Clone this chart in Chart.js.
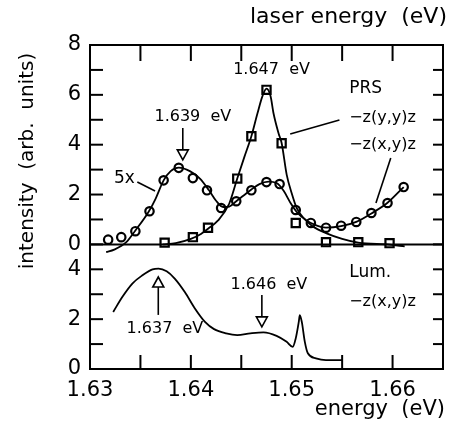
<!DOCTYPE html>
<html>
<head>
<meta charset="utf-8">
<script src="https://cdn.jsdelivr.net/npm/chart.js@4/dist/chart.umd.min.js"></script>
<style>
  html, body { margin: 0; padding: 0; background: #fff; }
  #wrap { width: 452px; height: 427px; }
</style>
</head>
<body>
<div id="wrap"><canvas id="grafica"></canvas></div>
<script>
// lower panel spans 0..5 on the shared axis, upper panel zero sits at 5
var LOWER_MAX = 5;
var UPPER_MAX = 8;

// PRS -z(x,y)z, 5x (circles)
var xyEnergia = [1.6318, 1.6331, 1.6345, 1.6359, 1.6373, 1.6388, 1.6402, 1.6416, 1.6430, 1.6445, 1.6460,
                 1.6475, 1.6488, 1.6504, 1.6519, 1.6534, 1.6549, 1.6564, 1.6579, 1.6595, 1.6611];
var xyValor   = [0.19, 0.29, 0.53, 1.33, 2.57, 3.07, 2.66, 2.17, 1.46, 1.73, 2.17,
                 2.50, 2.42, 1.38, 0.86, 0.67, 0.75, 0.90, 1.26, 1.66, 2.30];

// PRS -z(y,y)z (squares)
var yyEnergia = [1.6374, 1.6402, 1.6417, 1.6446, 1.6460, 1.6475, 1.6490, 1.6504, 1.6534, 1.6566, 1.6597];
var yyValor   = [0.07, 0.29, 0.67, 2.64, 4.34, 6.20, 4.06, 0.86, 0.09, 0.09, 0.05];

// fitted curve through the circles
var xyCurvaE = [1.6316, 1.6324, 1.6336, 1.6345, 1.6358, 1.6365, 1.6373, 1.6380, 1.6388, 1.6399, 1.6409,
                1.6418, 1.6425, 1.6432, 1.6438, 1.6445, 1.6452, 1.6460, 1.6468, 1.6477, 1.6485, 1.6492,
                1.6499, 1.6506, 1.6514, 1.6522, 1.6534, 1.6549, 1.6564, 1.6579, 1.6595, 1.6611];
var xyCurvaI = [-0.31, -0.21, 0.09, 0.56, 1.30, 1.83, 2.57, 2.94, 3.08, 2.94, 2.64,
                2.17, 1.75, 1.50, 1.52, 1.73, 1.95, 2.20, 2.42, 2.52, 2.46, 2.15,
                1.65, 1.25, 0.98, 0.80, 0.67, 0.73, 0.90, 1.24, 1.67, 2.30];

// fitted curve through the squares
var yyCurvaE = [1.6372, 1.6385, 1.6400, 1.6410, 1.6417, 1.6427, 1.6438, 1.6446, 1.6453, 1.6460, 1.6466,
                1.6471, 1.6475, 1.6479, 1.6482, 1.6487, 1.6490, 1.6495, 1.6500, 1.6505, 1.6512, 1.6520,
                1.6534, 1.6550, 1.6566, 1.6597, 1.6612];
var yyCurvaI = [0.00, 0.05, 0.22, 0.42, 0.63, 0.96, 1.63, 2.64, 3.50, 4.34, 5.25,
                5.95, 6.25, 5.95, 5.25, 4.45, 4.07, 2.80, 2.05, 1.45, 1.05, 0.75,
                0.45, 0.22, 0.07, -0.01, -0.08];

// luminescence -z(x,y)z (lower panel)
var lumEnergia = [1.6323, 1.6332, 1.6342, 1.6352, 1.6362, 1.6368, 1.6376, 1.6384, 1.6394, 1.6404, 1.6414,
                  1.6423, 1.6435, 1.6446, 1.6459, 1.6472, 1.6485, 1.6495, 1.6501, 1.6504, 1.6507, 1.6508,
                  1.6510, 1.6513, 1.6516, 1.6524, 1.6534, 1.6550];
var lumValor   = [2.29, 2.89, 3.43, 3.76, 4.00, 4.03, 3.92, 3.63, 3.09, 2.43, 1.89,
                  1.60, 1.43, 1.36, 1.43, 1.47, 1.33, 1.09, 0.89, 1.23, 1.89, 2.16,
                  1.89, 1.09, 0.63, 0.43, 0.36, 0.36];

function puntos(es, vs, offset) {
    return es.map(function (e, i) { return { x: e, y: vs[i] + offset }; });
}

var FONT = '"DejaVu Sans", sans-serif';

var anotaciones = {
    id: 'anotaciones',
    afterDraw: function (chart) {
        var ctx = chart.ctx;
        var a = chart.chartArea;
        var sx = chart.scales.x;
        var sy = chart.scales.y;
        var px = function (e) { return sx.getPixelForValue(e); };
        var py = function (v) { return sy.getPixelForValue(v); };

        function linea(x1, y1, x2, y2) {
            ctx.beginPath();
            ctx.moveTo(x1, y1);
            ctx.lineTo(x2, y2);
            ctx.stroke();
        }
        function texto(s, x, y, align, size) {
            ctx.font = (size || 16) + 'px ' + FONT;
            ctx.textAlign = align || 'center';
            ctx.textBaseline = 'middle';
            ctx.fillText(s, x, y);
        }
        // open arrow head pointing from y0 towards y1 (data units)
        function flecha(e, v0, v1) {
            var x = px(e), y0 = py(v0), y1 = py(v1);
            var dir = y1 > y0 ? 1 : -1;
            var base = y1 - dir * 10;
            linea(x, y0, x, base);
            ctx.beginPath();
            ctx.moveTo(x - 5.5, base);
            ctx.lineTo(x + 5.5, base);
            ctx.lineTo(x, y1);
            ctx.closePath();
            ctx.fillStyle = '#fff';
            ctx.fill();
            ctx.stroke();
            ctx.fillStyle = '#000';
        }

        ctx.save();
        ctx.strokeStyle = '#000';
        ctx.fillStyle = '#000';
        ctx.lineWidth = 2;

        // frame and panel divider
        ctx.strokeRect(a.left, a.top, a.right - a.left, a.bottom - a.top);
        linea(a.left, py(LOWER_MAX), a.right, py(LOWER_MAX));

        // inward tick marks
        sy.ticks.forEach(function (t) {
            if (t.value <= sy.min || t.value >= sy.max) return;
            var y = py(t.value);
            linea(a.left, y, a.left + 13, y);
            linea(a.right - 10, y, a.right, y);
        });
        sx.ticks.forEach(function (t) {
            if (t.value <= sx.min + 1e-9 || t.value >= sx.max - 1e-9) return;
            var x = px(t.value);
            linea(x, a.top, x, a.top + 16);
            linea(x, a.bottom - 14, x, a.bottom);
        });

        // axis titles
        texto('laser energy  (eV)', 447, 17, 'right', 22);
        texto('energy  (eV)', 445, 410, 'right', 21);
        ctx.save();
        ctx.translate(28, 161);
        ctx.rotate(-Math.PI / 2);
        texto('intensity  (arb.  units)', 0, 0, 'center', 20);
        ctx.restore();

        // upper panel labels
        ctx.lineWidth = 1.6;
        texto('1.647  eV', px(1.6480), py(12.0));
        texto('1.639  eV', px(1.6402), py(10.11));
        flecha(1.6392, 9.67, 8.39);
        texto('PRS', px(1.6557), py(11.24), 'left', 17);
        texto('\u2212z(y,y)z', px(1.6557), py(10.07), 'left');
        texto('\u2212z(x,y)z', px(1.6557), py(8.99), 'left');
        linea(px(1.65473), py(9.99), px(1.64985), py(9.43));
        linea(px(1.65982), py(8.47), px(1.65835), py(6.66));
        texto('5x', px(1.63342), py(7.66), 'center', 17);
        linea(px(1.63469), py(7.50), px(1.63645), py(7.14));

        // lower panel labels
        texto('Lum.', px(1.6557), py(3.85), 'left', 17);
        texto('\u2212z(x,y)z', px(1.6557), py(2.69), 'left');
        texto('1.637  eV', px(1.63743), py(1.605));
        flecha(1.63677, 2.17, 3.69);
        texto('1.646  eV', px(1.64774), py(3.37));
        flecha(1.64704, 2.97, 1.69);

        ctx.restore();
    }
};

var curva = function (data) {
    return {
        data: data,
        borderColor: '#000',
        borderWidth: 1.8,
        pointRadius: 0,
        fill: false,
        cubicInterpolationMode: 'monotone'
    };
};
var marcas = function (data, estilo, radio) {
    return {
        data: data,
        showLine: false,
        pointStyle: estilo,
        pointRadius: radio,
        pointBorderWidth: 2.2,
        pointBorderColor: '#000',
        pointBackgroundColor: '#fff'
    };
};

var ctx = document.getElementById('grafica');
new Chart(ctx.getContext('2d'), {
    type: 'line',
    data: {
        datasets: [
            curva(puntos(xyCurvaE, xyCurvaI, LOWER_MAX)),
            curva(puntos(yyCurvaE, yyCurvaI, LOWER_MAX)),
            curva(puntos(lumEnergia, lumValor, 0)),
            marcas(puntos(yyEnergia, yyValor, LOWER_MAX), 'rect', 5.8),
            marcas(puntos(xyEnergia, xyValor, LOWER_MAX), 'circle', 4.2)
        ]
    },
    options: {
        responsive: true,
        maintainAspectRatio: false,
        animation: false,
        layout: { padding: { top: 45, right: 4, left: 0, bottom: 0 } },
        plugins: {
            legend: { display: false },
            tooltip: { enabled: false }
        },
        scales: {
            x: {
                type: 'linear',
                min: 1.63,
                max: 1.665,
                grid: { display: false, drawTicks: false },
                border: { display: false },
                afterFit: function (s) { s.height = 58; },
                ticks: {
                    stepSize: 0.005,
                    autoSkip: false,
                    maxRotation: 0,
                    padding: 9,
                    color: '#000',
                    font: { family: FONT, size: 21 },
                    callback: function (v) {
                        var m = Math.round(v * 1000);
                        return m % 10 === 0 ? (m / 1000).toFixed(2) : '';
                    }
                }
            },
            y: {
                min: 0,
                max: LOWER_MAX + UPPER_MAX,
                grid: { display: false, drawTicks: false },
                border: { display: false },
                afterFit: function (s) { s.width = 90; },
                ticks: {
                    stepSize: 1,
                    autoSkip: false,
                    padding: 9,
                    color: '#000',
                    font: { family: FONT, size: 21 },
                    callback: function (v) {
                        var u = v < LOWER_MAX ? v : v - LOWER_MAX;
                        return u % 2 === 0 ? String(u) : '';
                    }
                }
            }
        }
    },
    plugins: [anotaciones]
});
</script>
</body>
</html>
